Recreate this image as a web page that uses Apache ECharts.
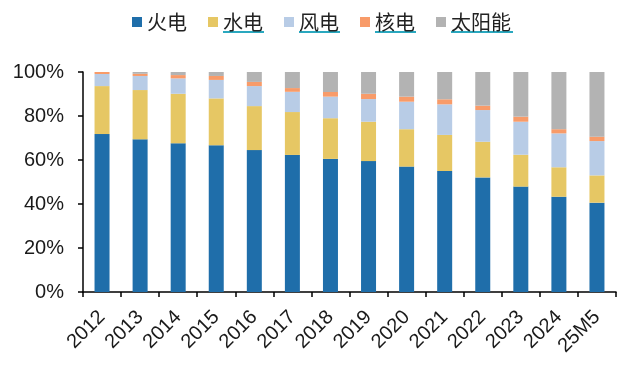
<!DOCTYPE html>
<html>
<head>
<meta charset="utf-8">
<script src="https://cdn.jsdelivr.net/npm/echarts@6/dist/echarts.min.js"></script>
<style>html,body{margin:0;padding:0;background:#fff;}#c{width:629px;height:372px;}</style>
</head>
<body>
<div id="c"></div>
<script>
var categories = ['2012','2013','2014','2015','2016','2017','2018','2019','2020','2021','2022','2023','2024','25M5'];
var thermal = [71.8,69.4,67.6,66.7,64.5,62.3,60.5,59.5,57.0,55.0,52.1,47.9,43.3,40.6];
var hydro   = [21.8,22.4,22.5,21.3,20.0,19.5,18.5,17.9,17.0,16.4,16.2,14.5,13.4,12.4];
var wind    = [5.5,6.4,7.0,8.4,9.1,9.2,9.8,10.3,12.5,13.9,14.4,15.0,15.4,15.6];
var nuclear = [0.9,1.0,1.5,1.8,1.9,1.7,2.1,2.4,2.3,2.3,2.0,2.3,1.9,2.0];
var solar   = [0.0,0.8,1.4,1.8,4.5,7.3,9.1,9.9,11.2,12.4,15.3,20.3,26.0,29.4];
var seriesNames = ['火电','水电','风电','核电','太阳能'];
var yTicks = [0,20,40,60,80,100];

var colors = ['#1f6eaa','#e6c764','#b8cce6','#f89b69','#b3b3b3'];
var dataSets = [thermal, hydro, wind, nuclear, solar];

var chart = echarts.init(document.getElementById('c'), null, {renderer:'canvas'});
var underline = function(x1, x2){
  return {type:'line', shape:{x1:x1, y1:32, x2:x2, y2:32}, style:{stroke:'#2aa8bf', lineWidth:2}, silent:true};
};
chart.setOption({
  animation:false,
  color: colors,
  legend: {
    data: seriesNames,
    left: 127, top: 7,
    itemWidth: 10, itemHeight: 10, itemGap: 21,
    icon: 'rect',
    textStyle: {fontFamily:'Noto Sans CJK SC', fontSize:20, color:'#222'}
  },
  graphic: [underline(223,264), underline(299,340), underline(375,416), underline(451,513)],
  grid: {left:83, right:13, top:72, bottom:80},
  xAxis: {
    type:'category', data: categories,
    axisLine:{lineStyle:{color:'#000', width:1.5}},
    axisTick:{show:true, length:5, lineStyle:{color:'#000', width:1.5}},
    axisLabel:{rotate:45, margin:22, fontSize:20, color:'#1a1a1a', fontFamily:'Liberation Sans', interval:0}
  },
  yAxis: {
    type:'value', min:yTicks[0], max:yTicks[yTicks.length-1], interval:yTicks[1]-yTicks[0],
    axisLine:{show:true, lineStyle:{color:'#000', width:1.5}},
    axisTick:{show:true, length:5, lineStyle:{color:'#000', width:1.5}},
    splitLine:{show:false},
    axisLabel:{formatter:'{value}%', margin:19, fontSize:20, color:'#1a1a1a', fontFamily:'Liberation Sans'}
  },
  series: seriesNames.map(function(n,i){
    return {name:n, type:'bar', stack:'total', barWidth:15, data:dataSets[i], itemStyle:{color:colors[i]}};
  })
});
</script>
</body>
</html>
